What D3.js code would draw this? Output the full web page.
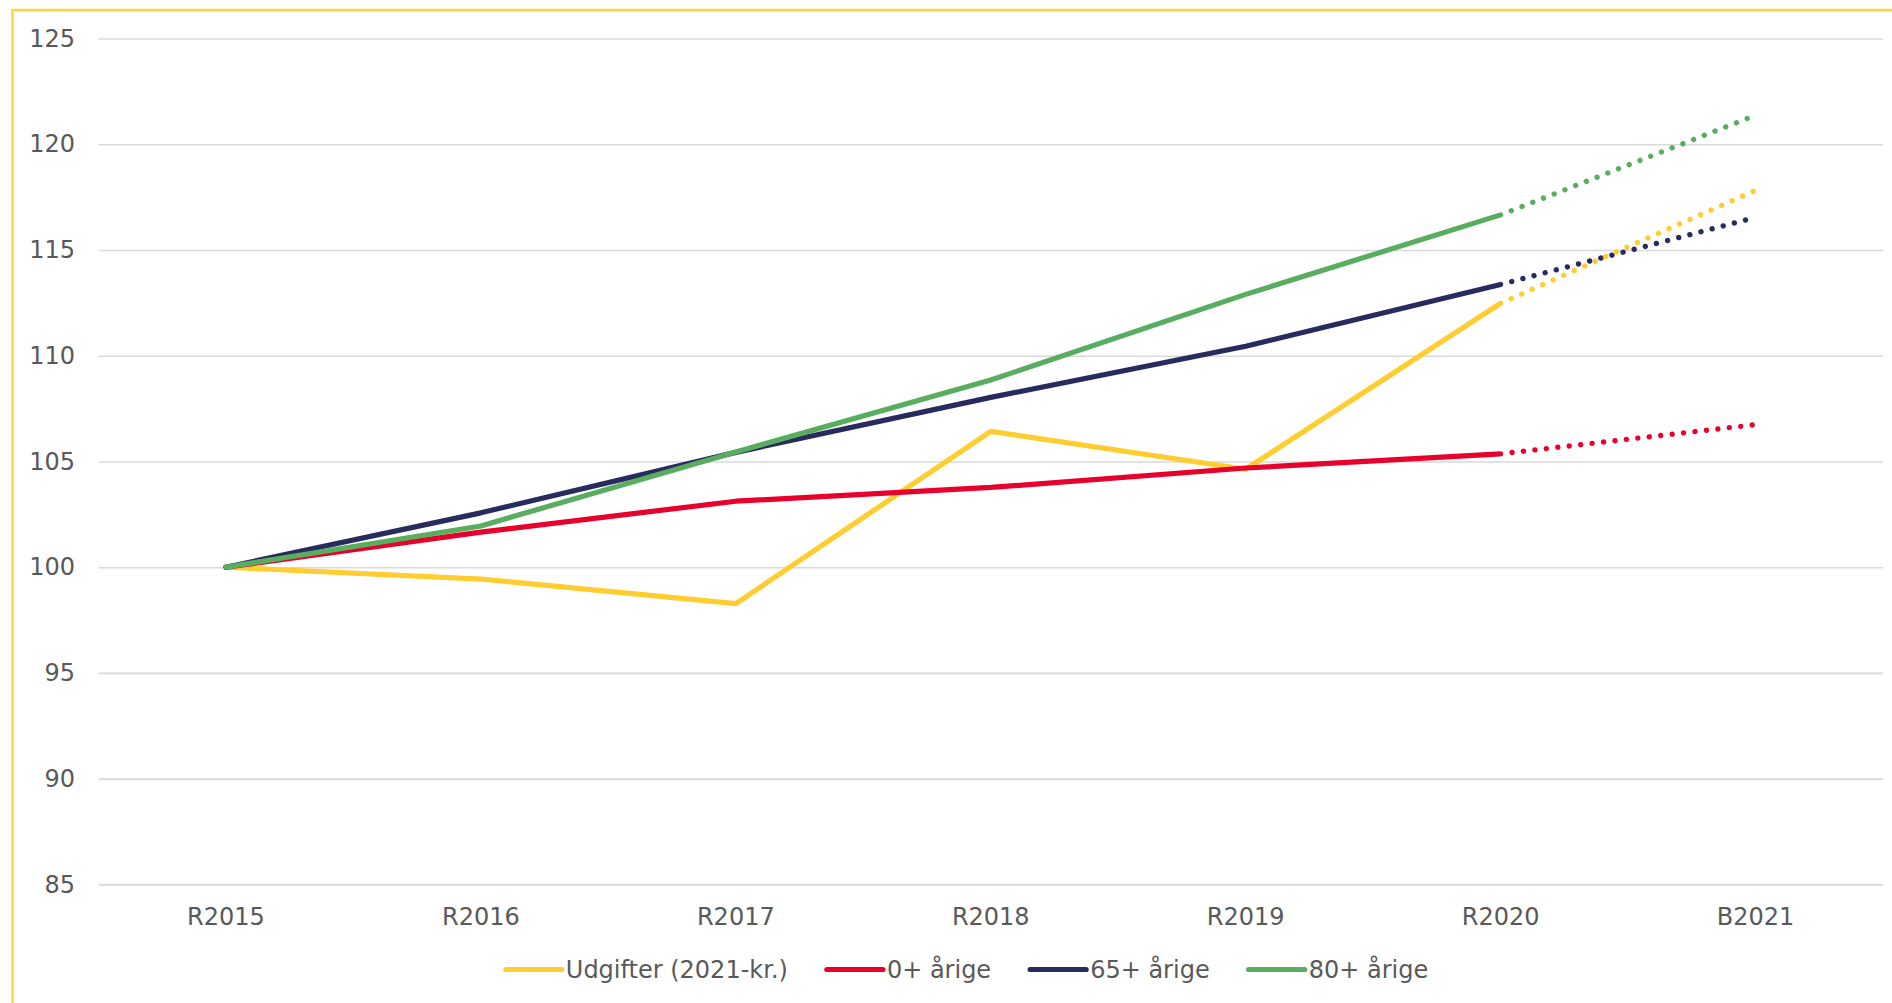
<!DOCTYPE html>
<html>
<head>
<meta charset="utf-8">
<script src="https://cdn.jsdelivr.net/npm/d3@7"></script>
<style>
  html, body { margin: 0; padding: 0; background: #ffffff; overflow: hidden; }
  svg { display: block; font-family: "DejaVu Sans", Verdana, sans-serif; }
</style>
</head>
<body>
<div id="chart"></div>
<script>
// Data (index, 2015 = 100)
const categories = ["R2015", "R2016", "R2017", "R2018", "R2019", "R2020", "B2021"];
const yTicks = [85, 90, 95, 100, 105, 110, 115, 120, 125];

const udgifter = [100, 99.44, 98.28, 106.42, 104.63, 112.48, 117.82];
const aarige0 = [100, 101.66, 103.12, 103.77, 104.69, 105.36, 106.74];
const aarige65 = [100, 102.57, 105.43, 108.03, 110.45, 113.37, 116.54];
const aarige80 = [100, 101.95, 105.45, 108.85, 112.9, 116.66, 121.37];

const seriesNames = ["Udgifter (2021-kr.)", "0+ årige", "65+ årige", "80+ årige"];
const seriesColors = ["#FFCD2F", "#E8002D", "#282B5E", "#59AD5F"];

const series = [udgifter, aarige0, aarige65, aarige80].map((values, i) => ({
  name: seriesNames[i],
  color: seriesColors[i],
  values: values.map((v, j) => ({ cat: categories[j], value: v })),
}));

const width = 1892;
const height = 1003;
const plot = { left: 98.5, right: 1883, top: 38.5, bottom: 884.4 };
const textColor = "#595959";
const fontSize = 24;

const svg = d3
  .select("#chart")
  .append("svg")
  .attr("width", width)
  .attr("height", height);

// yellow frame (only the top and left edges are inside the picture)
svg
  .append("rect")
  .attr("x", 12.5)
  .attr("y", 10)
  .attr("width", width + 20)
  .attr("height", height + 20)
  .attr("fill", "none")
  .attr("stroke", "#FFD43B")
  .attr("stroke-width", 2.5);

const x = d3
  .scaleBand()
  .domain(categories)
  .range([plot.left, plot.right])
  .padding(0);
const cx = (c) => x(c) + x.bandwidth() / 2;

const y = d3
  .scaleLinear()
  .domain([85, 125])
  .range([plot.bottom, plot.top]);

// Grid lines
const grid = svg
  .append("g")
  .attr("transform", `translate(${plot.left},0)`)
  .call(
    d3
      .axisLeft(y)
      .tickValues(yTicks)
      .tickSize(-(plot.right - plot.left))
      .tickFormat("")
  );
grid.select(".domain").remove();
grid.selectAll("line").attr("stroke", "#D9D9D9").attr("stroke-width", 1.6);

// Y axis labels
const yAxis = svg
  .append("g")
  .attr("transform", `translate(${plot.left},0)`)
  .call(d3.axisLeft(y).tickValues(yTicks).tickSize(0).tickPadding(23.5));
yAxis.select(".domain").remove();
yAxis
  .selectAll("text")
  .attr("font-size", fontSize)
  .attr("font-family", "DejaVu Sans, Verdana, sans-serif")
  .attr("fill", textColor);

// X axis labels
const xAxis = svg
  .append("g")
  .attr("transform", `translate(0,${plot.bottom})`)
  .call(d3.axisBottom(x).tickSize(0).tickPadding(23.5));
xAxis.select(".domain").remove();
xAxis
  .selectAll("text")
  .attr("font-size", fontSize)
  .attr("font-family", "DejaVu Sans, Verdana, sans-serif")
  .attr("fill", textColor);

const line = d3
  .line()
  .x((d) => cx(d.cat))
  .y((d) => y(d.value));

// Lines: solid for the accounts (R), dotted for the budget year (B)
const lastActual = categories.indexOf("R2020");
series.forEach((s) => {
  const g = svg.append("g");
  g.append("path")
    .datum(s.values.slice(0, lastActual + 1))
    .attr("d", line)
    .attr("fill", "none")
    .attr("stroke", s.color)
    .attr("stroke-width", 5.2)
    .attr("stroke-linejoin", "round")
    .attr("stroke-linecap", "round");
  g.append("path")
    .datum(s.values.slice(lastActual))
    .attr("d", line)
    .attr("fill", "none")
    .attr("stroke", s.color)
    .attr("stroke-width", 5.4)
    .attr("stroke-linecap", "round")
    .attr("stroke-dasharray", "0.01 11.5")
    .attr("stroke-dashoffset", -11.5);
});

// Legend
const legend = svg.append("g");
const items = legend
  .selectAll("g")
  .data(series)
  .enter()
  .append("g");
items
  .append("line")
  .attr("x1", 0)
  .attr("x2", 56)
  .attr("y1", 0)
  .attr("y2", 0)
  .attr("stroke", (d) => d.color)
  .attr("stroke-width", 5.2)
  .attr("stroke-linecap", "round");
items
  .append("text")
  .attr("x", 60)
  .attr("y", 8.7)
  .attr("font-size", fontSize)
  .attr("fill", textColor)
  .text((d) => d.name);

let offset = 0;
items.each(function () {
  const w = d3.select(this).select("text").node().getComputedTextLength();
  d3.select(this).attr("transform", `translate(${offset},0)`);
  offset += 60 + w + 39;
});
const legendWidth = offset - 39;
legend.attr("transform", `translate(${967 - legendWidth / 2},969.5)`);
</script>
</body>
</html>
